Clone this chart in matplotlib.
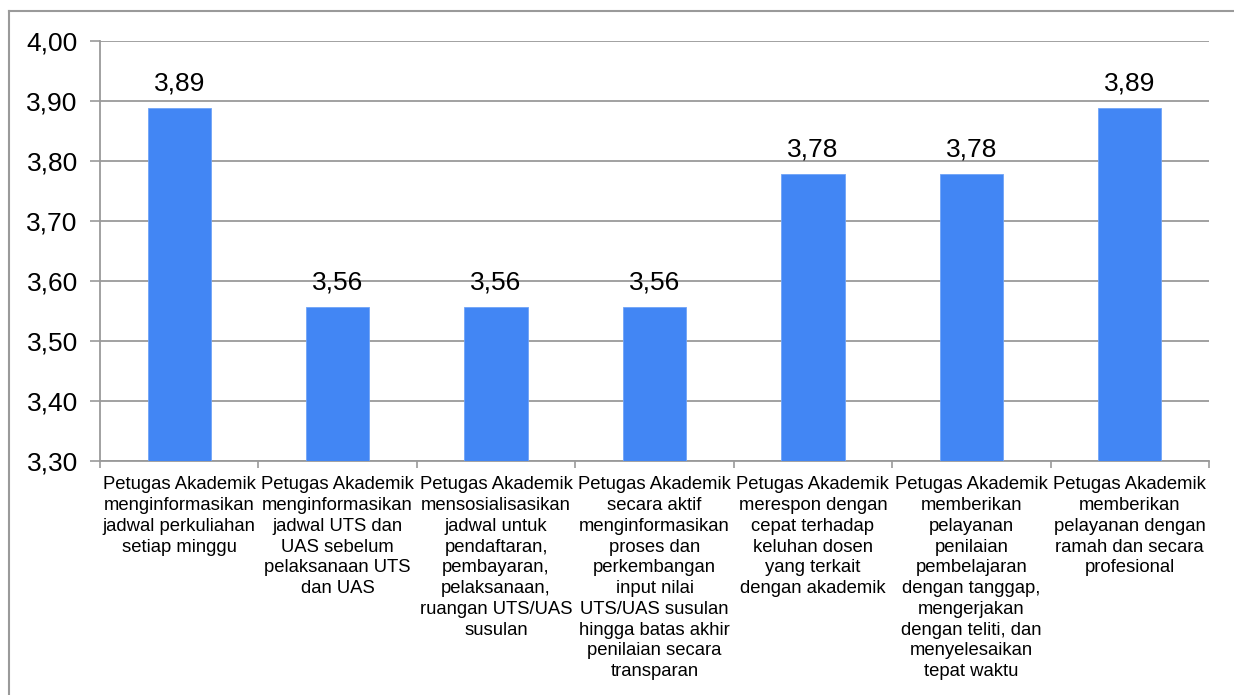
import matplotlib
matplotlib.use("Agg")
import matplotlib.pyplot as plt
from matplotlib.lines import Line2D
import numpy as np

categories = [
    "Petugas Akademik\nmenginformasikan\njadwal perkuliahan\nsetiap minggu",
    "Petugas Akademik\nmenginformasikan\njadwal UTS dan\nUAS sebelum\npelaksanaan UTS\ndan UAS",
    "Petugas Akademik\nmensosialisasikan\njadwal untuk\npendaftaran,\npembayaran,\npelaksanaan,\nruangan UTS/UAS\nsusulan",
    "Petugas Akademik\nsecara aktif\nmenginformasikan\nproses dan\nperkembangan\ninput nilai\nUTS/UAS susulan\nhingga batas akhir\npenilaian secara\ntransparan",
    "Petugas Akademik\nmerespon dengan\ncepat terhadap\nkeluhan dosen\nyang terkait\ndengan akademik",
    "Petugas Akademik\nmemberikan\npelayanan\npenilaian\npembelajaran\ndengan tanggap,\nmengerjakan\ndengan teliti, dan\nmenyelesaikan\ntepat waktu",
    "Petugas Akademik\nmemberikan\npelayanan dengan\nramah dan secara\nprofesional",
]
values = [3.889, 3.556, 3.556, 3.556, 3.778, 3.778, 3.889]
yticks = [3.30, 3.40, 3.50, 3.60, 3.70, 3.80, 3.90, 4.00]

plt.rcParams['font.family'] = ['Liberation Sans', 'DejaVu Sans']

fig = plt.figure(figsize=(12.34, 6.95), dpi=100)
ax = fig.add_axes([100/1234, 1 - 461/695, 1109/1234, 420/695])

x = np.arange(len(values))
ax.bar(x, values, width=0.40, color='#4286F4', edgecolor='#6FA3F7', linewidth=0.6, zorder=3)

ax.set_xlim(-0.5, len(values) - 0.5)
ax.set_ylim(3.30, 4.00)
ax.set_yticks(yticks)
ax.set_yticklabels([f"{v:.2f}".replace('.', ',') for v in yticks], fontsize=19)
ax.yaxis.grid(True, color='#9a9a9a', linewidth=1.3, zorder=0)
ax.set_axisbelow(True)

ax.set_xticks(x)
ax.set_xticklabels(categories, fontsize=13.3, linespacing=1.29, va='top', ha='center')
ax.set_xticks(np.arange(-0.5, len(values), 1.0), minor=True)
ax.tick_params(axis='x', which='major', length=0, pad=11, colors='black')
ax.tick_params(axis='x', which='minor', length=5, width=1.2, color='#9a9a9a')
ax.tick_params(axis='y', length=7, width=1.2, color='#9a9a9a', pad=9, labelcolor='black')

for s in ['top', 'right']:
    ax.spines[s].set_visible(False)
for s in ['left', 'bottom']:
    ax.spines[s].set_color('#9a9a9a')
    ax.spines[s].set_linewidth(1.3)

for xi, v in zip(x, values):
    ax.annotate(f"{v:.2f}".replace('.', ','), xy=(xi, v), xytext=(0, 9),
                textcoords='offset points', ha='center', va='bottom', fontsize=19)

# outer border (left and top edges visible)
fig.add_artist(Line2D([8.5/1234, 8.5/1234], [0, 1 - 11/695], transform=fig.transFigure,
                      color='#9a9a9a', linewidth=1.5))
fig.add_artist(Line2D([8.5/1234, 1], [1 - 11/695, 1 - 11/695], transform=fig.transFigure,
                      color='#9a9a9a', linewidth=1.5))

fig.savefig("out.png", dpi=100)
